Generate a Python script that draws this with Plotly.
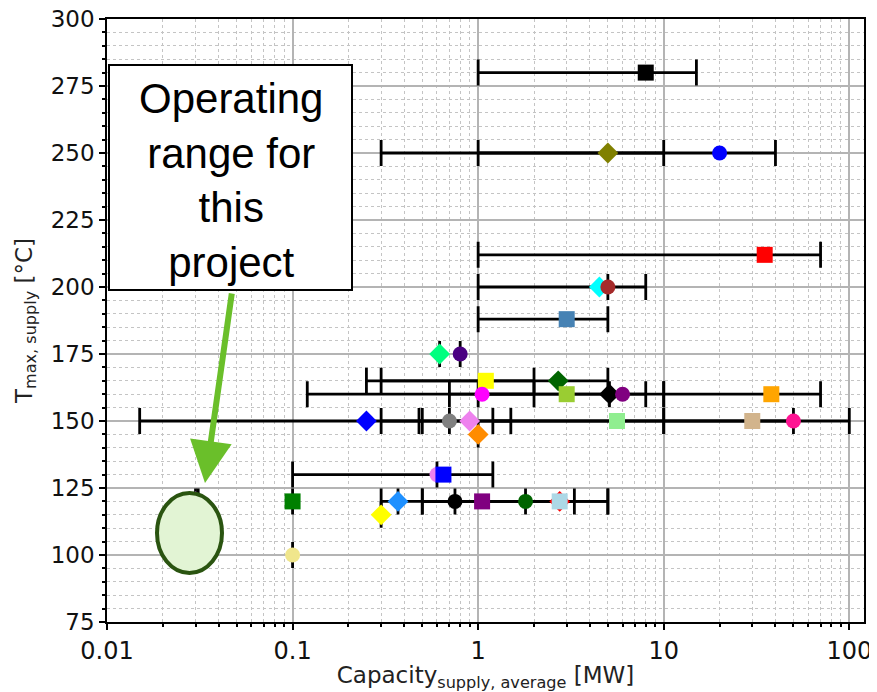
import math
import plotly.graph_objects as go

# ---------------- data ----------------
cap_avg = [8, 5, 20, 35, 4.5, 5, 3, 0.62, 0.8,
           1.1, 2.7, 1.05, 3, 5.1, 6, 38,
           0.25, 0.7, 0.9, 1.0, 5.6, 30, 50,
           0.6, 0.65,
           0.1, 0.3, 0.37, 0.75, 1.05, 1.8, 2.75, 2.75,
           0.1, 0.03, 0.031]
t_max = [280, 250, 250, 212, 200, 200, 188, 175, 175,
         165, 165, 160, 160, 160, 160, 160,
         150, 150, 150, 145, 150, 150, 150,
         130, 130,
         120, 115, 120, 120, 120, 120, 120, 120,
         100, 120, 120]
cap_low = [1, 0.3, 1, 1, 1, 5, 1, 0.62, 0.8,
           0.3, 0.25, 0.12, 1, 5.1, 0.7, 10,
           0.015, 0.7, 0.48, 1.0, 1.2, 10, 0.3,
           0.6, 0.1,
           0.1, 0.3, 0.37, 0.75, 0.3, 1.8, 0.5, 0.5,
           0.1, 0.03, 0.031]
cap_high = [15, 10, 40, 70, 8, 5, 5, 0.62, 0.8,
            2, 5, 2, 8, 5.1, 10, 70,
            0.5, 0.7, 1.5, 1.0, 10, 100, 50,
            0.6, 1.2,
            0.1, 0.3, 0.37, 0.75, 3.3, 1.8, 5, 5,
            0.1, 0.03, 0.031]
colors = ["black", "olive", "blue", "red", "cyan", "brown", "steelblue", "springgreen", "indigo",
          "yellow", "darkgreen", "magenta", "yellowgreen", "black", "purple", "orange",
          "blue", "gray", "violet", "darkorange", "lightgreen", "tan", "deeppink",
          "violet", "blue",
          "green", "yellow", "dodgerblue", "black", "purple", "darkgreen", "red", "lightblue",
          "khaki", "darkorchid", "orange"]
symbols = ["square", "diamond", "circle", "square", "diamond", "circle", "square", "diamond", "circle",
           "square", "diamond", "circle", "square", "diamond", "circle", "square",
           "diamond", "circle", "diamond", "diamond", "square", "square", "circle",
           "circle", "square",
           "square", "diamond", "diamond", "circle", "square", "circle", "diamond", "square",
           "circle", "diamond", "circle"]

x_tickvals = [0.01, 0.1, 1, 10, 100]
x_ticktext = ["0.01", "0.1", "1", "10", "100"]
y_tickvals = [75, 100, 125, 150, 175, 200, 225, 250, 275, 300]

# ---------------- figure ----------------
size_map = {"square": 16, "circle": 15, "diamond": 16}
err_plus = [h - x for h, x in zip(cap_high, cap_avg)]
err_minus = [x - l for x, l in zip(cap_avg, cap_low)]

fig = go.Figure()
# error bars (all below the markers)
fig.add_trace(go.Scatter(
    x=cap_avg, y=t_max, mode="markers",
    marker=dict(size=2, opacity=0),
    error_x=dict(type="data", symmetric=False, array=err_plus, arrayminus=err_minus,
                 color="black", thickness=2.8, width=13),
    hoverinfo="skip", showlegend=False))
# markers
fig.add_trace(go.Scatter(
    x=cap_avg, y=t_max, mode="markers",
    marker=dict(color=colors, symbol=symbols, size=[size_map[s] for s in symbols],
                opacity=1, line=dict(width=0)),
    opacity=1, showlegend=False))

fig.update_xaxes(
    type="log", range=[-2, math.log10(120)], automargin=False, ticklabeloverflow="allow",
    tickmode="array", tickvals=x_tickvals, ticktext=x_ticktext,
    ticks="outside", ticklen=6, tickwidth=1.5, tickcolor="black",
    showline=True, linecolor="black", linewidth=1.6, mirror=True,
    showgrid=True, gridcolor="#b4b4b4", gridwidth=1.6,
    minor=dict(dtick="D1", ticks="outside", ticklen=3, tickcolor="black",
               showgrid=True, gridcolor="#c4c4c4", griddash="dot", gridwidth=1),
    tickfont=dict(family="DejaVu Sans", size=24, color="#111111"),
    title=dict(text="Capacity<sub>supply, average</sub> [MW]",
               font=dict(family="DejaVu Sans", size=23, color="#222222"), standoff=4),
    zeroline=False)
fig.update_yaxes(
    range=[75, 300], tickmode="array", tickvals=y_tickvals, automargin=False,
    ticklabeloverflow="allow",
    ticks="outside", ticklen=6, tickwidth=1.5, tickcolor="black",
    showline=True, linecolor="black", linewidth=1.6, mirror=True,
    showgrid=True, gridcolor="#b4b4b4", gridwidth=1.6,
    minor=dict(dtick=5, ticks="outside", ticklen=3, tickcolor="black",
               showgrid=True, gridcolor="#c4c4c4", griddash="dot", gridwidth=1),
    tickfont=dict(family="DejaVu Sans", size=23, color="#111111"),
    title=dict(text="T<sub>max, supply</sub> [°C]",
               font=dict(family="DejaVu Sans", size=23, color="#222222"), standoff=12),
    zeroline=False)

# page has an 8px body margin: figure origin sits at (8, 8) of the window
OFF = 8
W, H = 877 - OFF, 692 - OFF
PL, PR, PT, PB = 107, 864, 19, 622          # plot area edges in window pixels
L, R, T, B = PL - OFF, W - (PR - OFF), PT - OFF, H - (PB - OFF)
pw, ph = W - L - R, H - T - B


def px(xp):
    return (xp - PL) / pw


def py(yp):
    return (PB - yp) / ph


# annotation box
fig.add_shape(type="rect", xref="paper", yref="paper",
              x0=px(109), x1=px(352), y0=py(290), y1=py(65),
              line=dict(color="black", width=2), fillcolor="white", layer="above")
fig.add_annotation(xref="paper", yref="paper", x=px(231), y=py(180),
                   text="Operating<br>range for<br>this<br>project", showarrow=False,
                   font=dict(family="Liberation Sans, Arial", size=42, color="black"),
                   xanchor="center", yanchor="middle", align="center")
# operating-range ellipse
fig.add_shape(type="circle", xref="paper", yref="paper",
              x0=px(157), x1=px(222), y0=py(573), y1=py(493),
              line=dict(color="#2a5410", width=4), fillcolor="#e2f4d4", layer="above")
# green arrow
fig.add_annotation(xref="paper", yref="paper", x=px(205), y=py(483),
                   ax=232 - 205, ay=292 - 483, axref="pixel", ayref="pixel",
                   text="", showarrow=True, arrowhead=2, arrowsize=1.4, arrowwidth=6,
                   arrowcolor="#6abf2a", standoff=0)

fig.update_layout(width=W, height=H, margin=dict(l=L, r=R, t=T, b=B, autoexpand=False),
                  plot_bgcolor="white", paper_bgcolor="white", showlegend=False)
fig.write_html("out.html")
